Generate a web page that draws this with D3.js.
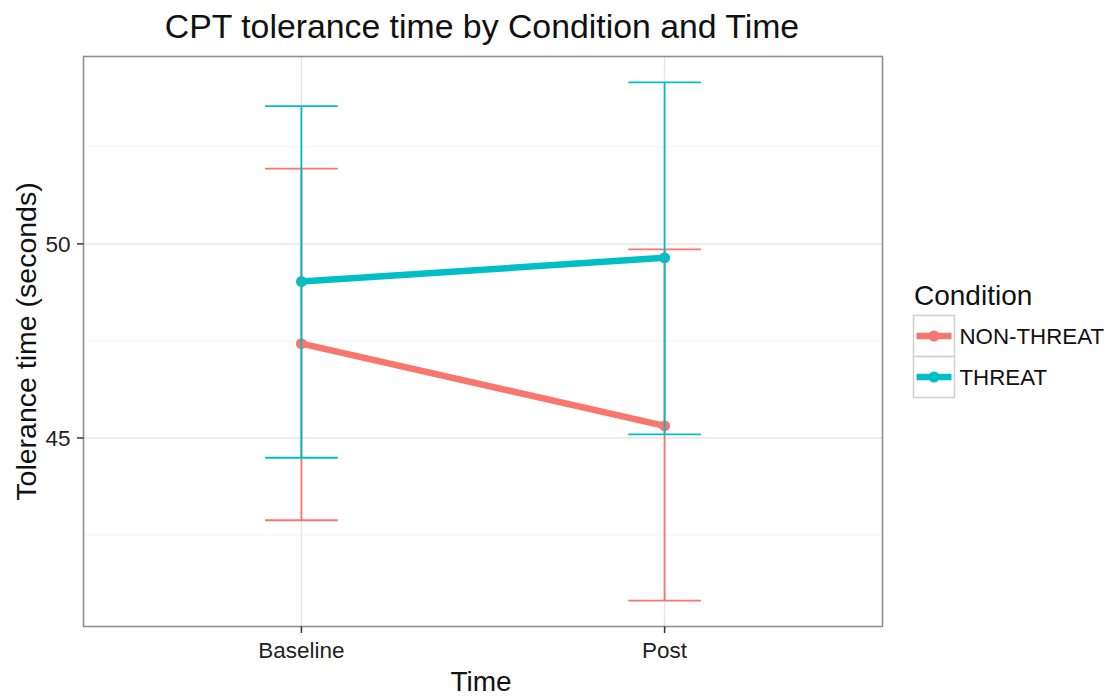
<!DOCTYPE html>
<html>
<head>
<meta charset="utf-8">
<script src="https://cdn.jsdelivr.net/npm/d3@7"></script>
<style>
  html, body { margin: 0; padding: 0; background: #fff; }
  svg { display: block; font-family: "Liberation Sans", Arial, sans-serif; }
</style>
</head>
<body>
<svg id="chart" width="1114" height="700"></svg>
<script>
// ---- data ----
const times = ["Baseline", "Post"];
const conditions = ["NON-THREAT", "THREAT"];
const colors = ["#F8766D", "#00BFC4"];
const meanNonThreat = [47.43, 45.31];
const lowerNonThreat = [42.88, 40.81];
const upperNonThreat = [51.94, 49.86];
const meanThreat = [49.03, 49.64];
const lowerThreat = [44.49, 45.09];
const upperThreat = [53.55, 54.16];
const yMajorTicks = [45, 50];
const yMinorTicks = [42.5, 47.5, 52.5];
const titleText = "CPT tolerance time by Condition and Time";
const xTitle = "Time";
const yTitle = "Tolerance time (seconds)";
const legendTitle = "Condition";

const series = [
  { name: conditions[0], color: colors[0], mean: meanNonThreat, lo: lowerNonThreat, hi: upperNonThreat },
  { name: conditions[1], color: colors[1], mean: meanThreat, lo: lowerThreat, hi: upperThreat }
];

const svg = d3.select("#chart");
const panel = { left: 83.5, top: 56.5, right: 882.5, bottom: 626.5 };

// x: discrete with ggplot expansion (0.6 units each side)
const x = d3.scaleLinear().domain([0.4, 2.6]).range([panel.left, panel.right]);
const xPos = t => x(times.indexOf(t) + 1);

// y: continuous with 5% expansion
const allVals = [].concat(lowerNonThreat, upperNonThreat, lowerThreat, upperThreat);
const ymin = d3.min(allVals), ymax = d3.max(allVals);
const pad = (ymax - ymin) * 0.05;
const y = d3.scaleLinear().domain([ymin - pad, ymax + pad]).range([panel.bottom, panel.top]);

// grid
const g = svg.append("g");
g.selectAll("line.minor").data(yMinorTicks).join("line")
  .attr("x1", panel.left).attr("x2", panel.right)
  .attr("y1", d => y(d)).attr("y2", d => y(d))
  .attr("stroke", "#f4f4f4").attr("stroke-width", 1);
g.selectAll("line.major").data(yMajorTicks).join("line")
  .attr("x1", panel.left).attr("x2", panel.right)
  .attr("y1", d => y(d)).attr("y2", d => y(d))
  .attr("stroke", "#e6e6e6").attr("stroke-width", 1.5);
g.selectAll("line.xmajor").data(times).join("line")
  .attr("x1", d => xPos(d)).attr("x2", d => xPos(d))
  .attr("y1", panel.top).attr("y2", panel.bottom)
  .attr("stroke", "#e6e6e6").attr("stroke-width", 1.5);

// lines and points
const line = d3.line().x((d, i) => xPos(times[i])).y(d => y(d));
series.forEach(s => {
  svg.append("path").datum(s.mean).attr("d", line)
    .attr("fill", "none").attr("stroke", s.color).attr("stroke-width", 6.5);
  svg.append("g").selectAll("circle").data(s.mean).join("circle")
    .attr("cx", (d, i) => xPos(times[i])).attr("cy", d => y(d)).attr("r", 5.5)
    .attr("fill", s.color);
});

// error bars
const ebHalf = x(1.1) - x(1);
series.forEach(s => {
  const eg = svg.append("g").attr("stroke", s.color).attr("stroke-width", 1.8).attr("fill", "none");
  times.forEach((t, i) => {
    const cx = xPos(t);
    eg.append("line").attr("x1", cx).attr("x2", cx).attr("y1", y(s.lo[i])).attr("y2", y(s.hi[i]));
    eg.append("line").attr("x1", cx - ebHalf).attr("x2", cx + ebHalf).attr("y1", y(s.lo[i])).attr("y2", y(s.lo[i]));
    eg.append("line").attr("x1", cx - ebHalf).attr("x2", cx + ebHalf).attr("y1", y(s.hi[i])).attr("y2", y(s.hi[i]));
  });
});

// panel border
svg.append("rect")
  .attr("x", panel.left).attr("y", panel.top)
  .attr("width", panel.right - panel.left).attr("height", panel.bottom - panel.top)
  .attr("fill", "none").attr("stroke", "#8f8f8f").attr("stroke-width", 1.6);

// y axis ticks
const yAxis = svg.append("g");
yMajorTicks.forEach(v => {
  yAxis.append("line").attr("x1", panel.left - 6.5).attr("x2", panel.left)
    .attr("y1", y(v)).attr("y2", y(v)).attr("stroke", "#333").attr("stroke-width", 1.5);
  yAxis.append("text").attr("x", panel.left - 13).attr("y", y(v)).attr("dy", "0.36em")
    .attr("text-anchor", "end").attr("font-size", 22.5).attr("fill", "#222").text(v);
});
// x axis ticks
const xAxis = svg.append("g");
times.forEach(t => {
  xAxis.append("line").attr("x1", xPos(t)).attr("x2", xPos(t))
    .attr("y1", panel.bottom).attr("y2", panel.bottom + 6.5).attr("stroke", "#333").attr("stroke-width", 1.5);
  xAxis.append("text").attr("x", xPos(t)).attr("y", 658)
    .attr("text-anchor", "middle").attr("font-size", 22.5).attr("fill", "#222").text(t);
});

// titles
svg.append("text").attr("x", (panel.left + panel.right) / 2 - 1).attr("y", 38)
  .attr("text-anchor", "middle").attr("font-size", 33.8).attr("fill", "#111").text(titleText);
svg.append("text").attr("x", (panel.left + panel.right) / 2 - 2).attr("y", 691)
  .attr("text-anchor", "middle").attr("font-size", 28).attr("fill", "#111").text(xTitle);
svg.append("text").attr("transform", `translate(36,${(panel.top + panel.bottom) / 2}) rotate(-90)`)
  .attr("text-anchor", "middle").attr("font-size", 28.5).attr("fill", "#111").text(yTitle);

// legend
const lg = svg.append("g");
lg.append("text").attr("x", 914).attr("y", 305).attr("font-size", 28).attr("fill", "#111").text(legendTitle);
const keyX = 913.5, keyW = 41, keyH = 41, keyY0 = 315.5;
series.forEach((s, i) => {
  const ky = keyY0 + i * keyH;
  lg.append("rect").attr("x", keyX).attr("y", ky).attr("width", keyW).attr("height", keyH)
    .attr("fill", "#fff").attr("stroke", "#d0d0d0").attr("stroke-width", 1.5);
  lg.append("line").attr("x1", keyX + 3).attr("x2", keyX + keyW - 3)
    .attr("y1", ky + keyH / 2).attr("y2", ky + keyH / 2)
    .attr("stroke", s.color).attr("stroke-width", 6.5);
  lg.append("circle").attr("cx", keyX + keyW / 2).attr("cy", ky + keyH / 2).attr("r", 5.5).attr("fill", s.color);
  lg.append("text").attr("x", keyX + keyW + 5).attr("y", ky + keyH / 2).attr("dy", "0.36em")
    .attr("font-size", 22.3).attr("fill", "#111").text(s.name);
});
</script>
</body>
</html>
